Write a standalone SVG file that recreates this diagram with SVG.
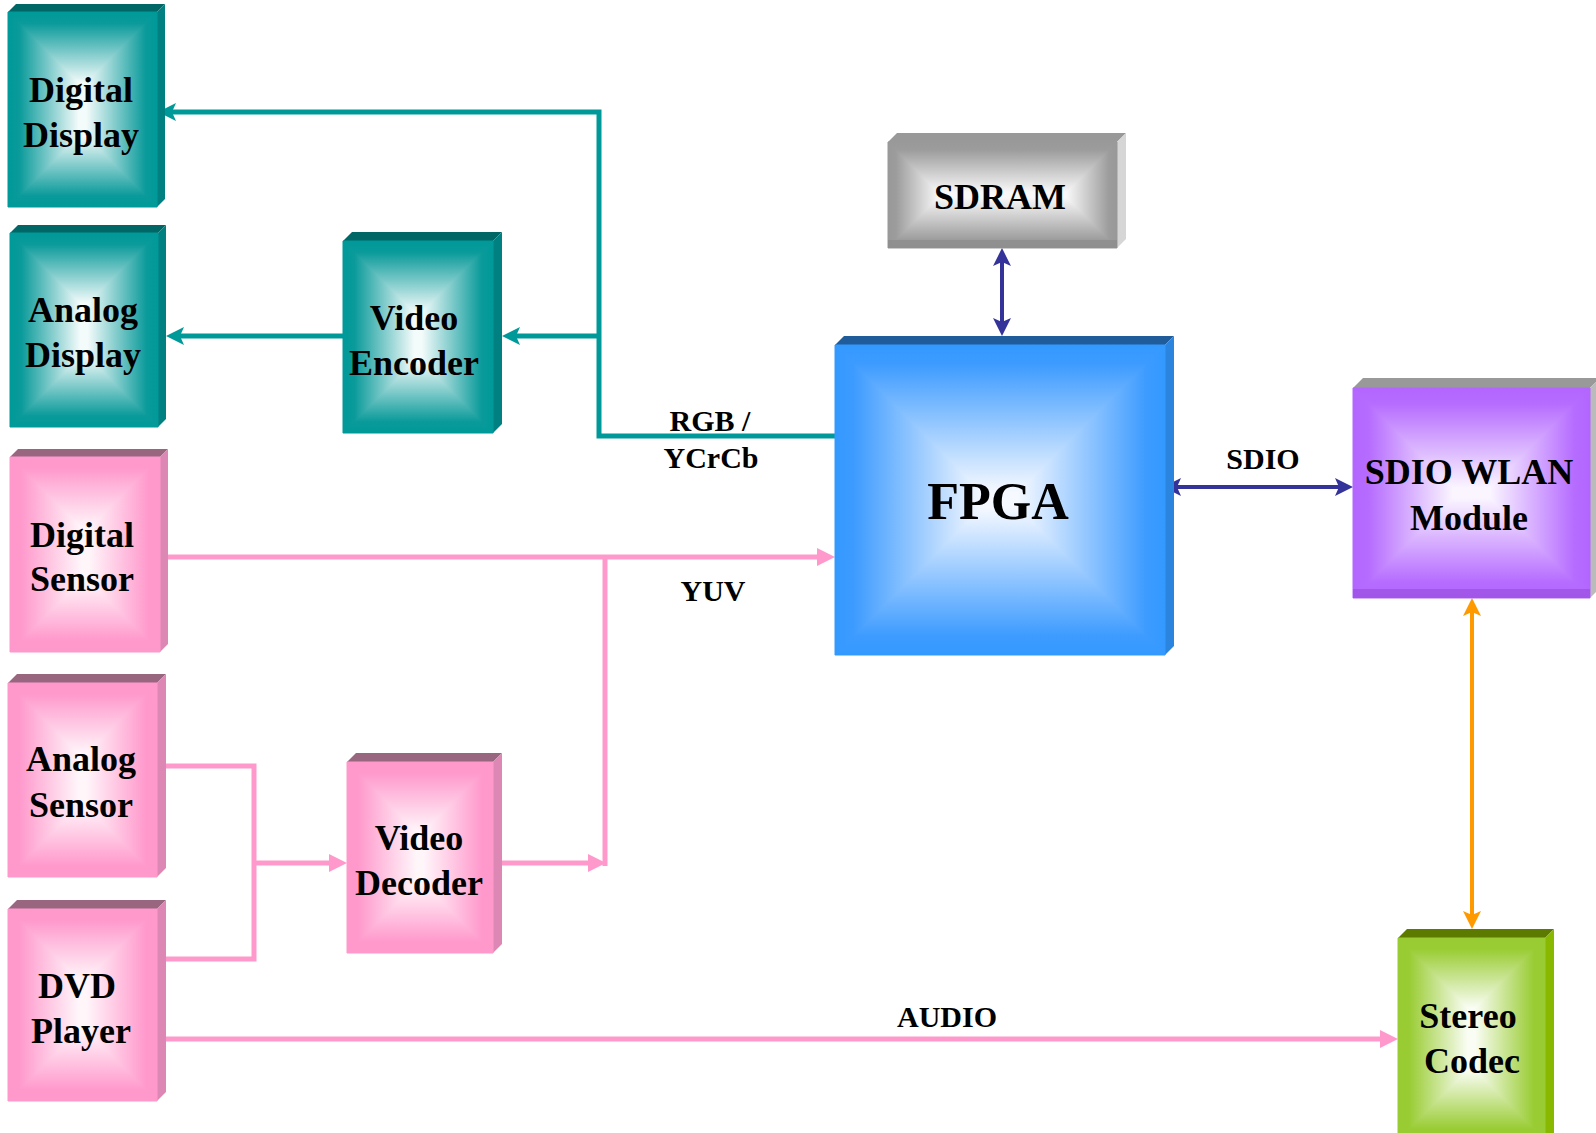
<svg xmlns="http://www.w3.org/2000/svg" width="1596" height="1133" viewBox="0 0 1596 1133">
<style>
.t{font-family:"Liberation Serif","Times New Roman",serif;font-weight:bold;font-size:36px;fill:#000;text-anchor:middle}
.lbl{font-family:"Liberation Serif","Times New Roman",serif;font-weight:bold;font-size:30px;fill:#000;text-anchor:middle}
.c{fill:none;stroke-linejoin:miter}
.teal{stroke:#009999;stroke-width:5}
.pink{stroke:#FF99CC;stroke-width:5}
.blue{stroke:#333399;stroke-width:4}
.orange{stroke:#FF9900;stroke-width:4}
polygon{stroke-width:1;stroke-linejoin:round}
.tL{fill:url(#tealL);stroke:url(#tealL)}.tR{fill:url(#tealR);stroke:url(#tealR)}.tT{fill:url(#tealT);stroke:url(#tealT)}.tB{fill:url(#tealB);stroke:url(#tealB)}
.pL{fill:url(#pinkL);stroke:url(#pinkL)}.pR{fill:url(#pinkR);stroke:url(#pinkR)}.pT{fill:url(#pinkT);stroke:url(#pinkT)}.pB{fill:url(#pinkB);stroke:url(#pinkB)}
.bL{fill:url(#bluL);stroke:url(#bluL)}.bR{fill:url(#bluR);stroke:url(#bluR)}.bT{fill:url(#bluT);stroke:url(#bluT)}.bB{fill:url(#bluB);stroke:url(#bluB)}
.gL{fill:url(#gryL);stroke:url(#gryL)}.gR{fill:url(#gryR);stroke:url(#gryR)}.gT{fill:url(#gryT);stroke:url(#gryT)}.gB{fill:url(#gryB);stroke:url(#gryB)}
.uL{fill:url(#purL);stroke:url(#purL)}.uR{fill:url(#purR);stroke:url(#purR)}.uT{fill:url(#purT);stroke:url(#purT)}.uB{fill:url(#purB);stroke:url(#purB)}
.nL{fill:url(#grnL);stroke:url(#grnL)}.nR{fill:url(#grnR);stroke:url(#grnR)}.nT{fill:url(#grnT);stroke:url(#grnT)}.nB{fill:url(#grnB);stroke:url(#grnB)}
.flat{stroke:none}
</style>
<defs>
<linearGradient id="teal"><stop offset="0" stop-color="#009999"/><stop offset="0.15" stop-color="#0A9A9A"/><stop offset="0.95" stop-color="#F4FBFB"/></linearGradient>
<linearGradient id="tealL" href="#teal" x1="0" y1="0" x2="1" y2="0"/>
<linearGradient id="tealR" href="#teal" x1="1" y1="0" x2="0" y2="0"/>
<linearGradient id="tealT" href="#teal" x1="0" y1="0" x2="0" y2="1"/>
<linearGradient id="tealB" href="#teal" x1="0" y1="1" x2="0" y2="0"/>
<linearGradient id="pink"><stop offset="0" stop-color="#FF99CC"/><stop offset="0.15" stop-color="#FF99CC"/><stop offset="0.95" stop-color="#FFF6FA"/></linearGradient>
<linearGradient id="pinkL" href="#pink" x1="0" y1="0" x2="1" y2="0"/>
<linearGradient id="pinkR" href="#pink" x1="1" y1="0" x2="0" y2="0"/>
<linearGradient id="pinkT" href="#pink" x1="0" y1="0" x2="0" y2="1"/>
<linearGradient id="pinkB" href="#pink" x1="0" y1="1" x2="0" y2="0"/>
<linearGradient id="blu"><stop offset="0" stop-color="#3399FF"/><stop offset="0.12" stop-color="#3D9BFF"/><stop offset="0.95" stop-color="#F6F9FF"/></linearGradient>
<linearGradient id="bluL" href="#blu" x1="0" y1="0" x2="1" y2="0"/>
<linearGradient id="bluR" href="#blu" x1="1" y1="0" x2="0" y2="0"/>
<linearGradient id="bluT" href="#blu" x1="0" y1="0" x2="0" y2="1"/>
<linearGradient id="bluB" href="#blu" x1="0" y1="1" x2="0" y2="0"/>
<linearGradient id="gry"><stop offset="0" stop-color="#999999"/><stop offset="0.15" stop-color="#9C9C9C"/><stop offset="0.95" stop-color="#F8F8F8"/></linearGradient>
<linearGradient id="gryL" href="#gry" x1="0" y1="0" x2="1" y2="0"/>
<linearGradient id="gryR" href="#gry" x1="1" y1="0" x2="0" y2="0"/>
<linearGradient id="gryT" href="#gry" x1="0" y1="0" x2="0" y2="1"/>
<linearGradient id="gryB" href="#gry" x1="0" y1="1" x2="0" y2="0"/>
<linearGradient id="pur"><stop offset="0" stop-color="#B366FF"/><stop offset="0.15" stop-color="#B66CFF"/><stop offset="0.95" stop-color="#FAF5FF"/></linearGradient>
<linearGradient id="purL" href="#pur" x1="0" y1="0" x2="1" y2="0"/>
<linearGradient id="purR" href="#pur" x1="1" y1="0" x2="0" y2="0"/>
<linearGradient id="purT" href="#pur" x1="0" y1="0" x2="0" y2="1"/>
<linearGradient id="purB" href="#pur" x1="0" y1="1" x2="0" y2="0"/>
<linearGradient id="grn"><stop offset="0" stop-color="#99CC33"/><stop offset="0.15" stop-color="#99CC33"/><stop offset="0.95" stop-color="#FAFDF4"/></linearGradient>
<linearGradient id="grnL" href="#grn" x1="0" y1="0" x2="1" y2="0"/>
<linearGradient id="grnR" href="#grn" x1="1" y1="0" x2="0" y2="0"/>
<linearGradient id="grnT" href="#grn" x1="0" y1="0" x2="0" y2="1"/>
<linearGradient id="grnB" href="#grn" x1="0" y1="1" x2="0" y2="0"/>
<marker id="aTeal" markerUnits="userSpaceOnUse" markerWidth="18" markerHeight="18" refX="10" refY="9" orient="auto"><path d="M0,0 L18,9 L0,18 L4,9 Z" fill="#009999"/></marker>
<marker id="aPink" markerUnits="userSpaceOnUse" markerWidth="18" markerHeight="18" refX="10" refY="9" orient="auto"><path d="M0,0 L18,9 L0,18 Z" fill="#FF99CC"/></marker>
<marker id="aBlue" markerUnits="userSpaceOnUse" markerWidth="18" markerHeight="18" refX="10" refY="9" orient="auto-start-reverse"><path d="M0,0 L18,9 L0,18 L4,9 Z" fill="#333399"/></marker>
<marker id="aOrange" markerUnits="userSpaceOnUse" markerWidth="18" markerHeight="18" refX="10" refY="9" orient="auto-start-reverse"><path d="M0,0 L18,9 L0,18 L4,9 Z" fill="#FF9900"/></marker>
</defs>
<rect width="1596" height="1133" fill="#fff"/>

<g id="connectors">
<path class="c teal" d="M835,436 H599 V112 H166" marker-end="url(#aTeal)"/>
<path class="c teal" d="M599,336 H510" marker-end="url(#aTeal)"/>
<path class="c teal" d="M343,336 H174" marker-end="url(#aTeal)"/>
<path class="c pink" d="M160,557 H827" marker-end="url(#aPink)"/>
<path class="c pink" d="M605,555 V866"/>
<path class="c pink" d="M502,863 H598" marker-end="url(#aPink)"/>
<path class="c pink" d="M160,766 H254 V959 H160"/>
<path class="c pink" d="M254,863 H339" marker-end="url(#aPink)"/>
<path class="c pink" d="M157,1039 H1390" marker-end="url(#aPink)"/>
<path class="c blue" d="M1002,256 V328" marker-start="url(#aBlue)" marker-end="url(#aBlue)"/>
<path class="c blue" d="M1171,487 H1345" marker-start="url(#aBlue)" marker-end="url(#aBlue)"/>
<path class="c orange" d="M1472,606 V921" marker-start="url(#aOrange)" marker-end="url(#aOrange)"/>
</g>

<g id="digital-display">
<polygon class="flat" points="8,12 16,4 165,4 157,12" fill="#006666"/>
<polygon class="flat" points="157,12 165,4 165,199 157,207" fill="#008080"/>
<polygon class="tL" points="8,12 82.5,86.5 82.5,132.5 8,207"/>
<polygon class="tR" points="157,12 82.5,86.5 82.5,132.5 157,207"/>
<polygon class="tT" points="8,12 157,12 82.5,86.5"/>
<polygon class="tB" points="8,207 157,207 82.5,132.5"/>
<text class="t" x="81" y="102">Digital</text>
<text class="t" x="81" y="147">Display</text>
</g>

<g id="analog-display">
<polygon class="flat" points="10,233 18,225 166,225 158,233" fill="#006666"/>
<polygon class="flat" points="158,233 166,225 166,419 158,427" fill="#008080"/>
<polygon class="tL" points="10,233 84,307 84,353 10,427"/>
<polygon class="tR" points="158,233 84,307 84,353 158,427"/>
<polygon class="tT" points="10,233 158,233 84,307"/>
<polygon class="tB" points="10,427 158,427 84,353"/>
<text class="t" x="83" y="322">Analog</text>
<text class="t" x="83" y="367">Display</text>
</g>

<g id="video-encoder">
<polygon class="flat" points="343,241 352,232 502,232 493,241" fill="#006666"/>
<polygon class="flat" points="493,241 502,232 502,424 493,433" fill="#008080"/>
<polygon class="tL" points="343,241 418,316 418,358 343,433"/>
<polygon class="tR" points="493,241 418,316 418,358 493,433"/>
<polygon class="tT" points="343,241 493,241 418,316"/>
<polygon class="tB" points="343,433 493,433 418,358"/>
<text class="t" x="414" y="330">Video</text>
<text class="t" x="414" y="375">Encoder</text>
</g>

<g id="digital-sensor">
<polygon class="flat" points="10,457 18,449 168,449 160,457" fill="#996680"/>
<polygon class="flat" points="160,457 168,449 168,644 160,652" fill="#DD88B4"/>
<polygon class="pL" points="10,457 85,532 85,577 10,652"/>
<polygon class="pR" points="160,457 85,532 85,577 160,652"/>
<polygon class="pT" points="10,457 160,457 85,532"/>
<polygon class="pB" points="10,652 160,652 85,577"/>
<text class="t" x="82" y="547">Digital</text>
<text class="t" x="82" y="591">Sensor</text>
</g>

<g id="analog-sensor">
<polygon class="flat" points="8,683 17,674 166,674 157,683" fill="#996680"/>
<polygon class="flat" points="157,683 166,674 166,868 157,877" fill="#DD88B4"/>
<polygon class="pL" points="8,683 82.5,757.5 82.5,802.5 8,877"/>
<polygon class="pR" points="157,683 82.5,757.5 82.5,802.5 157,877"/>
<polygon class="pT" points="8,683 157,683 82.5,757.5"/>
<polygon class="pB" points="8,877 157,877 82.5,802.5"/>
<text class="t" x="81" y="771">Analog</text>
<text class="t" x="81" y="817">Sensor</text>
</g>

<g id="dvd-player">
<polygon class="flat" points="8,909 17,900 166,900 157,909" fill="#996680"/>
<polygon class="flat" points="157,909 166,900 166,1092 157,1101" fill="#DD88B4"/>
<polygon class="pL" points="8,909 82.5,983.5 82.5,1026.5 8,1101"/>
<polygon class="pR" points="157,909 82.5,983.5 82.5,1026.5 157,1101"/>
<polygon class="pT" points="8,909 157,909 82.5,983.5"/>
<polygon class="pB" points="8,1101 157,1101 82.5,1026.5"/>
<text class="t" x="77" y="998">DVD</text>
<text class="t" x="81" y="1043">Player</text>
</g>

<g id="video-decoder">
<polygon class="flat" points="347,762 356,753 502,753 493,762" fill="#996680"/>
<polygon class="flat" points="493,762 502,753 502,944 493,953" fill="#DD88B4"/>
<polygon class="pL" points="347,762 420,835 420,880 347,953"/>
<polygon class="pR" points="493,762 420,835 420,880 493,953"/>
<polygon class="pT" points="347,762 493,762 420,835"/>
<polygon class="pB" points="347,953 493,953 420,880"/>
<text class="t" x="419" y="850">Video</text>
<text class="t" x="419" y="895">Decoder</text>
</g>

<g id="sdram">
<polygon class="flat" points="888,142 897,133 1126,133 1117,142" fill="#999999"/>
<polygon class="flat" points="1117,142 1126,133 1126,239 1117,248" fill="#D6D6D6"/>
<polygon class="gL" points="888,142 941,195 888,248"/>
<polygon class="gR" points="1117,142 1064,195 1117,248"/>
<polygon class="gT" points="888,142 1117,142 1064,195 941,195"/>
<polygon class="gB" points="888,248 1117,248 1064,195 941,195"/>
<rect x="888" y="240" width="229" height="8" fill="#888888" opacity="0.6"/>
<text class="t" x="1000" y="209">SDRAM</text>
</g>

<g id="fpga">
<polygon class="flat" points="835,345 844,336 1174,336 1165,345" fill="#1F5C99"/>
<polygon class="flat" points="1165,345 1174,336 1174,646 1165,655" fill="#2B84DD"/>
<polygon class="bL" points="835,345 990,500 835,655"/>
<polygon class="bR" points="1165,345 1010,500 1165,655"/>
<polygon class="bT" points="835,345 1165,345 1010,500 990,500"/>
<polygon class="bB" points="835,655 1165,655 1010,500 990,500"/>
<text class="t" x="998" y="519" style="font-size:52px">FPGA</text>
</g>

<g id="sdio-wlan">
<polygon class="flat" points="1353,388 1363,378 1600,378 1590,388" fill="#999999"/>
<polygon class="flat" points="1590,388 1600,378 1600,588 1590,598" fill="#BBBBBB"/>
<polygon class="uL" points="1353,388 1458,493 1353,598"/>
<polygon class="uR" points="1590,388 1485,493 1590,598"/>
<polygon class="uT" points="1353,388 1590,388 1485,493 1458,493"/>
<polygon class="uB" points="1353,598 1590,598 1485,493 1458,493"/>
<rect x="1353" y="589" width="237" height="9" fill="#9A50E0" opacity="0.7"/>
<text class="t" x="1469" y="484">SDIO WLAN</text>
<text class="t" x="1469" y="530">Module</text>
</g>

<g id="stereo-codec">
<polygon class="flat" points="1398,938 1407,929 1554,929 1545,938" fill="#5C7A00"/>
<polygon class="flat" points="1545,938 1554,929 1554,1140 1545,1140" fill="#88B800"/>
<polygon class="nL" points="1398,938 1471.5,1011.5 1471.5,1066.5 1398,1140"/>
<polygon class="nR" points="1545,938 1471.5,1011.5 1471.5,1066.5 1545,1140"/>
<polygon class="nT" points="1398,938 1545,938 1471.5,1011.5"/>
<polygon class="nB" points="1398,1140 1545,1140 1471.5,1066.5"/>
<text class="t" x="1468" y="1028">Stereo</text>
<text class="t" x="1472" y="1073">Codec</text>
</g>

<g id="labels">
<text class="lbl" x="710" y="431">RGB /</text>
<text class="lbl" x="711" y="468">YCrCb</text>
<text class="lbl" x="1263" y="469">SDIO</text>
<text class="lbl" x="713" y="601">YUV</text>
<text class="lbl" x="947" y="1027">AUDIO</text>
</g>
</svg>
